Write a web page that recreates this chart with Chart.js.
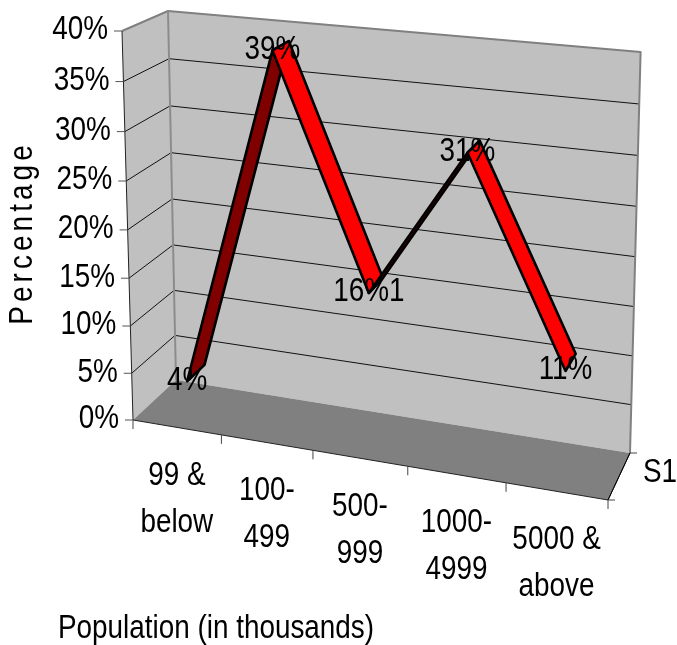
<!DOCTYPE html>
<html>
<head>
<meta charset="utf-8">
<title>Population chart</title>
<script src="https://cdn.jsdelivr.net/npm/chart.js@4/dist/chart.umd.js"></script>
<style>
  html, body { margin: 0; padding: 0; background: #fff; }
  canvas { display: block; }
</style>
</head>
<body>
<canvas id="chart" width="677" height="645"></canvas>
<script>
const categories = [["99 &", "below"], ["100-", "499"], ["500-", "999"], ["1000-", "4999"], ["5000 &", "above"]];
const percentages = [4, 39, 16, 31, 11];
const pointLabels = ["4%", "39%", "16%1", "31%", "11%"];
const seriesName = "S1";
const yTitle = "Percentage";
const xTitle = "Population (in thousands)";

const FONT = "34px 'Liberation Sans', sans-serif";
const NARROW = 0.82; // the reference text is squeezed horizontally

// corners of the 3D box, in order: bottom left, bottom right, top right, top left
const frontQuad = [[133, 420], [608, 500], [620, 77], [122, 31]];
const backQuad = [[176, 380], [630, 453], [640.6, 52], [168, 11]];
const RIBBON_NEAR = 0.27;
const RIBBON_FAR = 0.69;
const RIBBON_DROP = 2;

function planeAt(depth) {
  return frontQuad.map((p, i) => [
    p[0] + (backQuad[i][0] - p[0]) * depth,
    p[1] + (backQuad[i][1] - p[1]) * depth
  ]);
}

// perspective map of the unit square on a quad
function project(u, v, depth) {
  const [[x0, y0], [x1, y1], [x2, y2], [x3, y3]] = planeAt(depth);
  const dx1 = x1 - x2, dx2 = x3 - x2, sx = x0 - x1 + x2 - x3;
  const dy1 = y1 - y2, dy2 = y3 - y2, sy = y0 - y1 + y2 - y3;
  const det = dx1 * dy2 - dx2 * dy1;
  const g = (sx * dy2 - dx2 * sy) / det;
  const h = (dx1 * sy - sx * dy1) / det;
  const w = g * u + h * v + 1;
  return [
    ((x1 - x0 + g * x1) * u + (x3 - x0 + h * x3) * v + x0) / w,
    ((y1 - y0 + g * y1) * u + (y3 - y0 + h * y3) * v + y0) / w
  ];
}

function poly(ctx, pts, fill, stroke, width) {
  ctx.beginPath();
  pts.forEach((p, i) => (i ? ctx.lineTo(p[0], p[1]) : ctx.moveTo(p[0], p[1])));
  if (fill) {
    ctx.closePath();
    ctx.fillStyle = fill;
    ctx.fill();
  }
  if (stroke) {
    ctx.strokeStyle = stroke;
    ctx.lineWidth = width;
    ctx.lineJoin = "round";
    ctx.stroke();
  }
}

function label(ctx, text, x, y, align) {
  ctx.save();
  ctx.translate(x, y);
  ctx.scale(NARROW, 1);
  ctx.font = FONT;
  ctx.fillStyle = "#000";
  ctx.textAlign = align || "center";
  ctx.textBaseline = "middle";
  ctx.fillText(text, 0, 0);
  ctx.restore();
}

const box3d = {
  id: "box3d",
  beforeDatasetsDraw(chart) {
    const { ctx, chartArea, scales } = chart;
    const vOf = (val) => (chartArea.bottom - scales.y.getPixelForValue(val)) / chartArea.height;
    ctx.save();

    // walls and floor
    poly(ctx, [frontQuad[0], frontQuad[3], backQuad[3], backQuad[0]], "#c0c0c0");
    poly(ctx, backQuad, "#c0c0c0");
    poly(ctx, [frontQuad[0], frontQuad[1], backQuad[1], backQuad[0]], "#808080");

    // gridlines over left and back wall
    scales.y.ticks.forEach((t) => {
      const v = vOf(t.value);
      if (v > 0 && v < 1) {
        poly(ctx, [project(0, v, 0), project(0, v, 1), project(1, v, 1)], null, "#111", 1);
      }
    });

    // wall edges
    poly(ctx, [frontQuad[3], backQuad[3], backQuad[2], backQuad[1]], null, "#808080", 2);
    poly(ctx, [backQuad[3], backQuad[0]], null, "#8c8c8c", 2);
    poly(ctx, [frontQuad[3], frontQuad[0], frontQuad[1], backQuad[1]], null, "#222", 1);

    // y ticks and labels
    scales.y.ticks.forEach((t) => {
      const p = project(0, vOf(t.value), 0);
      poly(ctx, [p, [p[0] - 8, p[1]]], null, "#555", 1);
      label(ctx, t.label, p[0] - 14, p[1] - 1, "right");
    });

    // x ticks
    const n = categories.length;
    for (let i = 0; i <= n; i++) {
      const p = project(i / n, 0, 0);
      poly(ctx, [p, [p[0], p[1] + 9]], null, "#444", 1);
    }
    // x labels follow the slanted floor edge
    scales.x.ticks.forEach((t, i) => {
      const u = (scales.x.getPixelForTick(i) - chartArea.left) / chartArea.width;
      const p = project(u, 0, 0);
      [].concat(t.label).forEach((line, j) => {
        label(ctx, line, p[0], p[1] + 48 + j * 47);
      });
    });

    // depth axis
    poly(ctx, [frontQuad[1], backQuad[1]], null, "#000", 1);
    poly(ctx, [frontQuad[1], [frontQuad[1][0] + 7, frontQuad[1][1]]], null, "#444", 1);
    poly(ctx, [backQuad[1], [backQuad[1][0] + 7, backQuad[1][1]]], null, "#444", 1);
    label(ctx, seriesName, 660, 473);

    // axis titles
    label(ctx, xTitle, 216, 629);
    ctx.translate(23, 233);
    ctx.rotate(-Math.PI / 2);
    ctx.letterSpacing = "5px";
    ctx.font = FONT;
    ctx.fillStyle = "#000";
    ctx.textAlign = "center";
    ctx.textBaseline = "middle";
    ctx.scale(NARROW, 1);
    ctx.fillText(yTitle, 0, 0);
    ctx.letterSpacing = "0px";
    ctx.restore();
  },
  afterDatasetsDraw(chart) {
    const { ctx, chartArea } = chart;
    const pts = chart.getDatasetMeta(0).data;
    const uv = pts.map((p) => [
      (p.x - chartArea.left) / chartArea.width,
      (chartArea.bottom - p.y) / chartArea.height
    ]);
    const place = (p, depth) => {
      const q = project(p[0], p[1], depth);
      return [q[0], q[1] + RIBBON_DROP];
    };
    ctx.save();
    for (let i = 0; i < uv.length - 1; i++) {
      const a = uv[i], b = uv[i + 1];
      // rising stretches show their dark underside
      const color = b[1] > a[1] ? "#800000" : "#ff0000";
      poly(ctx, [
        place(a, RIBBON_NEAR),
        place(b, RIBBON_NEAR),
        place(b, RIBBON_FAR),
        place(a, RIBBON_FAR),
        place(a, RIBBON_NEAR)
      ], color, "#000", 2.6);
    }
    uv.forEach((p, i) => {
      const q = place(p, RIBBON_NEAR);
      label(ctx, pointLabels[i], q[0], q[1] - 1);
    });
    ctx.restore();
  }
};

new Chart(document.getElementById("chart"), {
  type: "line",
  data: {
    labels: categories,
    datasets: [{
      label: seriesName,
      data: percentages,
      showLine: false,
      pointRadius: 0
    }]
  },
  options: {
    responsive: false,
    animation: false,
    layout: { padding: { left: 122, right: 57, top: 31, bottom: 225 } },
    plugins: {
      legend: { display: false },
      tooltip: { enabled: false }
    },
    scales: {
      x: {
        offset: true,
        grid: { display: false },
        border: { display: false },
        ticks: { display: false },
        afterFit(scale) { scale.height = 0; }
      },
      y: {
        min: 0,
        max: 40,
        grid: { display: false },
        border: { display: false },
        ticks: { display: false, stepSize: 5, callback: (v) => v + "%" },
        afterFit(scale) { scale.width = 0; }
      }
    }
  },
  plugins: [box3d]
});
</script>
</body>
</html>
